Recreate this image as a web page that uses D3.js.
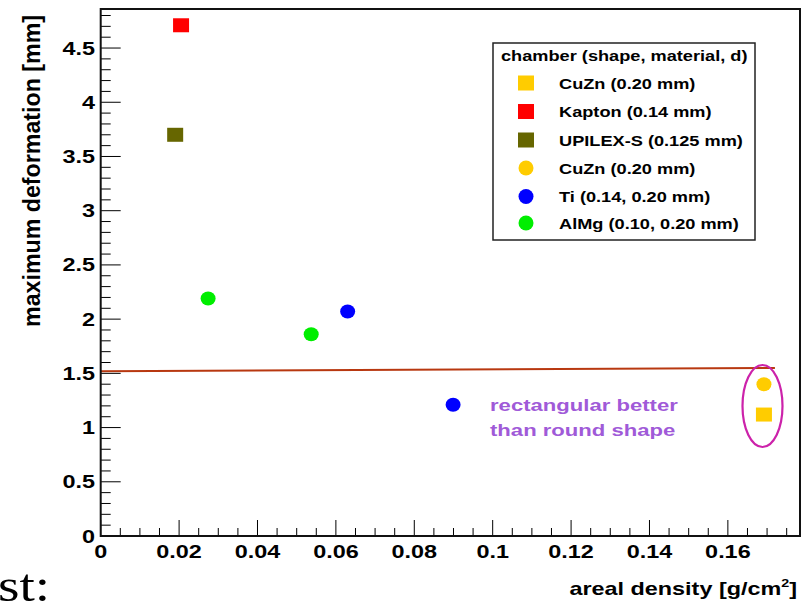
<!DOCTYPE html>
<html><head><meta charset="utf-8">
<script src="https://cdn.jsdelivr.net/npm/d3@7"></script>
<style>body{margin:0;background:#fff}svg{display:block}</style>
</head><body>
<svg id="c" width="808" height="603"></svg>
<script>
// ---- data ----
const legendTitle = "chamber (shape, material, d)";
const seriesNames = ["CuZn (0.20 mm)", "Kapton (0.14 mm)", "UPILEX-S (0.125 mm)", "CuZn (0.20 mm)", "Ti (0.14, 0.20 mm)", "AlMg (0.10, 0.20 mm)"];
const seriesShapes = ["square", "square", "square", "circle", "circle", "circle"];
const seriesColors = ["#ffcc00", "#ff0000", "#666600", "#ffcc00", "#0000ff", "#00ee00"];
const seriesX = [[0.1692], [0.0205], [0.0190], [0.1692], [0.0630, 0.0899], [0.0274, 0.0537]];
const seriesY = [[1.12], [4.71], [3.70], [1.40], [2.07, 1.21], [2.19, 1.86]];
const fitX = [0, 0.172];
const fitY = [1.52, 1.55];
const xTicks = [0, 0.02, 0.04, 0.06, 0.08, 0.1, 0.12, 0.14, 0.16];
const xTickLabels = ["0", "0.02", "0.04", "0.06", "0.08", "0.1", "0.12", "0.14", "0.16"];
const yTicks = [0, 0.5, 1, 1.5, 2, 2.5, 3, 3.5, 4, 4.5];
const yTickLabels = ["0", "0.5", "1", "1.5", "2", "2.5", "3", "3.5", "4", "4.5"];
const xTitleMain = "areal density [g/cm";
const xTitleSup = "2";
const xTitleEnd = "]";
const yTitle = "maximum deformation [mm]";
const noteLines = ["rectangular better", "than round shape"];
const xDomain = [0, 0.1784];
const yDomain = [0, 4.86];

// ---- layout ----
const SX = 1.3;
const F = "'Liberation Sans', Arial, Helvetica, sans-serif";
const L = 100.7, R = 800, T = 9, B = 536;
const svg = d3.select("#c");
const x = d3.scaleLinear().domain(xDomain).range([L, R]);
const y = d3.scaleLinear().domain(yDomain).range([B, T]);

function stext(px, py, str, size, anchor, color, weight) {
  const g = svg.append("g").attr("transform", `translate(${px},${py}) scale(${SX},1)`);
  return g.append("text").attr("x", 0).attr("y", 0).attr("font-family", F)
    .attr("font-size", size).attr("font-weight", weight || "bold")
    .attr("text-anchor", anchor || "start").attr("fill", color || "#000").text(str);
}

// fit line
svg.append("line").attr("x1", x(fitX[0])).attr("y1", y(fitY[0]))
  .attr("x2", x(fitX[1])).attr("y2", y(fitY[1]))
  .attr("stroke", "#b83810").attr("stroke-width", 2);

// ticks
const xMinor = d3.range(0, xDomain[1] + 1e-9, 0.005);
xMinor.forEach(v => {
  const major = Math.abs(v / 0.02 - Math.round(v / 0.02)) < 1e-6;
  svg.append("line").attr("x1", x(v)).attr("x2", x(v)).attr("y1", B).attr("y2", B - (major ? 16 : 8))
    .attr("stroke", "#000").attr("stroke-width", 1);
});
const yMinor = d3.range(0, yDomain[1] + 1e-9, 0.1);
yMinor.forEach(v => {
  const major = Math.abs(v / 0.5 - Math.round(v / 0.5)) < 1e-6;
  svg.append("line").attr("y1", y(v)).attr("y2", y(v)).attr("x1", L).attr("x2", L + (major ? 20 : 10))
    .attr("stroke", "#000").attr("stroke-width", 1);
});

// frame
svg.append("rect").attr("x", L).attr("y", T).attr("width", R - L).attr("height", B - T)
  .attr("fill", "none").attr("stroke", "#111").attr("stroke-width", 2);

// tick labels
xTicks.forEach((v, i) => stext(x(v), 558, xTickLabels[i], 18, "middle"));
yTicks.forEach((v, i) => stext(95, y(v) + 6.5, yTickLabels[i], 18, "end"));

// axis titles
const xt = stext(797, 595, "", 18, "end");
xt.append("tspan").text(xTitleMain);
xt.append("tspan").attr("font-size", 11).attr("dy", -8).text(xTitleSup);
xt.append("tspan").attr("dy", 8).text(xTitleEnd);

svg.append("g").attr("transform", `translate(40,15) rotate(-90) scale(1,${SX})`)
  .append("text").attr("font-family", F).attr("font-size", 18).attr("font-weight", "bold")
  .attr("text-anchor", "end").attr("textLength", 312).attr("lengthAdjust", "spacingAndGlyphs")
  .text(yTitle);

// markers
seriesNames.forEach((name, i) => {
  seriesX[i].forEach((xv, j) => {
    const cx = x(xv), cy = y(seriesY[i][j]);
    if (seriesShapes[i] === "square") {
      svg.append("rect").attr("x", cx - 8).attr("y", cy - 7).attr("width", 16).attr("height", 14)
        .attr("fill", seriesColors[i]);
    } else {
      svg.append("ellipse").attr("cx", cx).attr("cy", cy).attr("rx", 7.5).attr("ry", 7)
        .attr("fill", seriesColors[i]);
    }
  });
});

// highlight ellipse
svg.append("ellipse").attr("cx", 762.5).attr("cy", 406).attr("rx", 20).attr("ry", 41)
  .attr("fill", "none").attr("stroke", "#cc22aa").attr("stroke-width", 2.2);

// note
noteLines.forEach((t, i) => stext(490, 411 + i * 25, t, 17, "start", "#a05ad8"));

// legend
svg.append("rect").attr("x", 493).attr("y", 43).attr("width", 262).attr("height", 197)
  .attr("fill", "#fff").attr("stroke", "#222").attr("stroke-width", 1.5);
stext(501, 61, legendTitle, 14, "start");
const rowY = [83, 111.5, 140, 168, 196.5, 223];
seriesNames.forEach((name, i) => {
  const cy = rowY[i];
  if (seriesShapes[i] === "square") {
    svg.append("rect").attr("x", 526 - 8).attr("y", cy - 7.5).attr("width", 16).attr("height", 15)
      .attr("fill", seriesColors[i]);
  } else {
    svg.append("ellipse").attr("cx", 526).attr("cy", cy).attr("rx", 7.5).attr("ry", 7.5)
      .attr("fill", seriesColors[i]);
  }
  stext(559, cy + 5.5, name, 14, "start");
});

// stray text from the slide
svg.append("g").attr("transform", "translate(-2,601) scale(1.2,1)")
  .append("text").attr("font-family", "'Liberation Serif', 'Times New Roman', serif")
  .attr("font-size", 46).attr("fill", "#000").text("st:");
</script>
</body></html>
